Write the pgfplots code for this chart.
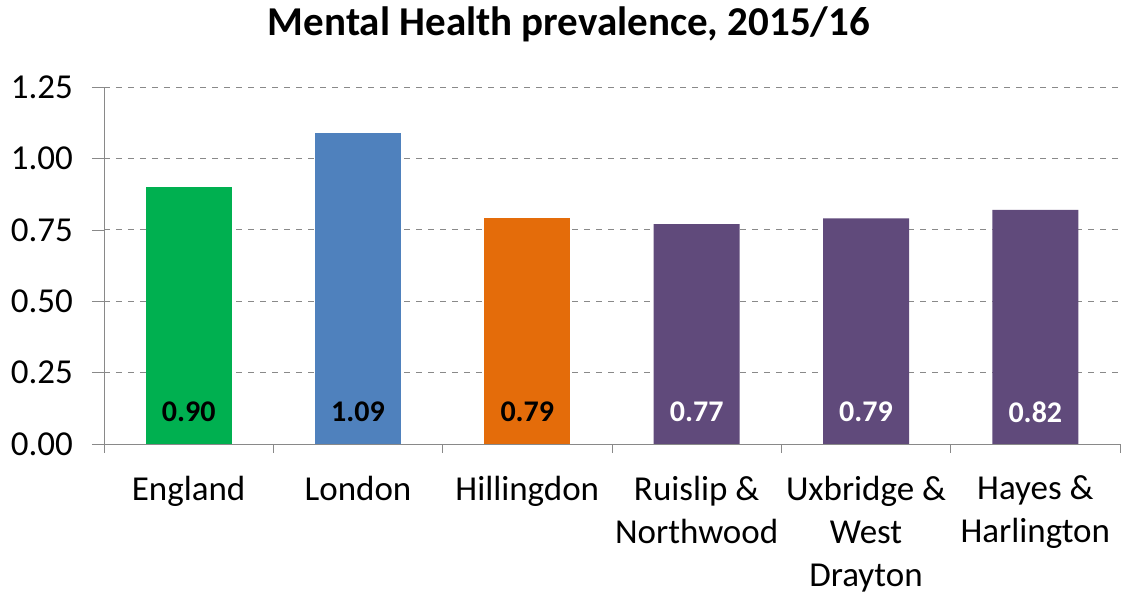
\documentclass[border=0pt]{standalone}
\usepackage{fontspec}
\setmainfont{Carlito}
\usepackage{pgfplots}
\pgfplotsset{compat=1.18}

\definecolor{engl}{HTML}{00B050}
\definecolor{lond}{HTML}{4F81BD}
\definecolor{hill}{HTML}{E46C0A}
\definecolor{ward}{HTML}{604A7B}
\definecolor{axgray}{HTML}{898989}

\begin{document}
\begin{tikzpicture}
\path[use as bounding box] (0,0) rectangle (561.5pt,298.5pt);
\begin{axis}[
    at={(52pt,76.5pt)}, anchor=south west,
    scale only axis,
    width=508pt, height=178.5pt,
    xmin=-0.5, xmax=5.5,
    ymin=0, ymax=1.25,
    ytick={0,0.25,...,1.25},
    xtick={0,...,5},
    xticklabels={England,London,Hillingdon,Ruislip \&\\Northwood,Uxbridge \&\\West\\Drayton,Hayes \&\\Harlington},
    minor xtick={-0.5,0.5,...,5.5},
    major x tick style={draw=none},
    minor x tick style={draw=axgray},
    tick align=outside,
    major tick length=6pt,
    minor tick length=4.5pt,
    y tick style={draw=axgray},
    axis x line*=bottom, axis y line*=left,
    axis line style={draw=axgray, -},
    ymajorgrids, grid style={dashed, draw=axgray},
    /pgf/number format/assume math mode=true,
    yticklabel={\pgfmathprintnumber[fixed,fixed zerofill,precision=2]{\tick}},
    ticklabel style={font=\fontsize{17.5}{20}\selectfont},
    xticklabel style={align=center, yshift=-6.5pt, font=\fontsize{17.5}{21.5}\selectfont},
    yticklabel style={xshift=-6pt},
    title={Mental Health prevalence, 2015/16},
    title style={font=\fontsize{20.5}{23}\selectfont\bfseries, at={(0.5,1)}, anchor=center, yshift=25.5pt, xshift=-21.5pt},
    clip=false,
]
\addplot[ybar, bar shift=0pt, bar width=43pt, fill=engl, draw=none] coordinates {(0,0.90)};
\addplot[ybar, bar shift=0pt, bar width=43pt, fill=lond, draw=none] coordinates {(1,1.09)};
\addplot[ybar, bar shift=0pt, bar width=43pt, fill=hill, draw=none] coordinates {(2,0.79)};
\addplot[ybar, bar shift=0pt, bar width=43pt, fill=ward, draw=none] coordinates {(3,0.77) (4,0.79) (5,0.82)};
% value labels near the bar bottoms
\addplot[draw=none, mark=none, nodes near coords, point meta=explicit symbolic,
    every node near coord/.append style={anchor=center, font=\fontsize{15}{17}\selectfont\bfseries, text=black}]
    coordinates {(0,0.112)[0.90] (1,0.112)[1.09] (2,0.112)[0.79]};
\addplot[draw=none, mark=none, nodes near coords, point meta=explicit symbolic,
    every node near coord/.append style={anchor=center, font=\fontsize{15}{17}\selectfont\bfseries, text=white}]
    coordinates {(3,0.112)[0.77] (4,0.112)[0.79] (5,0.112)[0.82]};
\end{axis}
\end{tikzpicture}
\end{document}
